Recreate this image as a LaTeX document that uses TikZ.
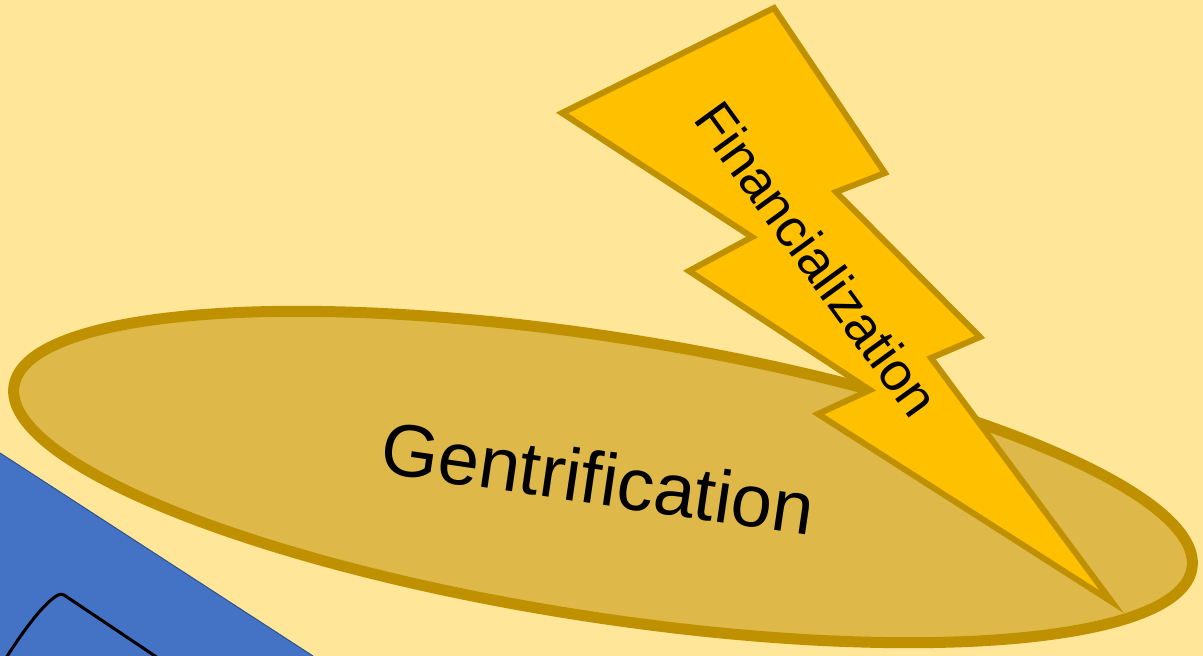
\documentclass[tikz,border=0pt]{standalone}
\usepackage{fontspec}
\setmainfont{Liberation Sans}
\usetikzlibrary{shapes.geometric}
\definecolor{bgc}{HTML}{FFE699}
\definecolor{ellfill}{HTML}{DEB94A}
\definecolor{goldline}{HTML}{BF9000}
\definecolor{boltfill}{HTML}{FFC000}
\definecolor{bluefill}{HTML}{4472C4}
\definecolor{blueline}{HTML}{2F528F}
\tikzset{
  gentell/.style={ellipse, draw=goldline, fill=ellfill, line width=11pt,
    minimum width=1192pt, minimum height=280pt, inner sep=0pt},
  boltshape/.style={draw=goldline, fill=boltfill, line width=6pt, line join=miter},
  bolttext/.style={font=\fontsize{54}{64}\selectfont, inner sep=0pt},
  gentext/.style={font=\fontsize{74}{88}\selectfont, inner sep=0pt},
}
\begin{document}
\begin{tikzpicture}[x=1pt,y=-1pt]
\useasboundingbox (0,0) rectangle (1203,656);
\fill[bgc] (0,0) rectangle (1203,656);
\begin{scope}
\clip (0,0) rectangle (1203,656);
% blue shape
\fill[bluefill] (0,453) -- (313,656) -- (0,656) -- cycle;
\draw[blueline, line width=1pt] (0,453) -- (313,656);
\draw[black, line width=3pt, line join=round] (6,658) .. controls (25,628) and (45,602) .. (58,595) .. controls (60,594) and (62,594) .. (64,595) -- (158,658);
% ellipse
\node[gentell, rotate=-8.8] (gent) at (603,477) {};
\node[gentext, rotate=-8.3] (gentlabel) at (598,478) {Gentrification};
% bolt
\draw[boltshape] (774,8) -- (885,173) -- (836,192) -- (980,337) -- (931,358)
  -- (1112,602) -- (818,414) -- (870,390) -- (689,271) -- (752,237) -- (562,113) -- cycle;
\node[bolttext, rotate=-54] (fin) at (817,259) {Financialization};
\end{scope}
\end{tikzpicture}
\end{document}
